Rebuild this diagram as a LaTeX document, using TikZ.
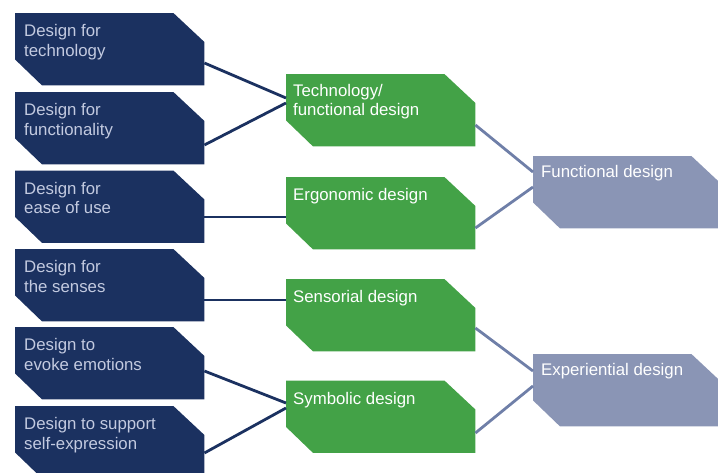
\documentclass[tikz,border=0pt]{standalone}
\usepackage{fontspec}
\setmainfont{Liberation Sans}
\usetikzlibrary{calc,backgrounds}
\definecolor{navy}{HTML}{1B3160}
\definecolor{navytext}{HTML}{C3CAE0}
\definecolor{leaf}{HTML}{43A247}
\definecolor{slate}{HTML}{8A95B5}
\definecolor{slateline}{HTML}{6F7FA8}
\begin{document}
\begin{tikzpicture}[x=1pt,y=-1pt,
  box/.style={rectangle,anchor=north west,inner sep=0pt,minimum width=189pt,minimum height=72pt},
  txt/.style={anchor=base west,inner sep=0pt,align=left,font=\fontsize{16.8}{19.5}\selectfont},
  navyline/.style={draw=navy,line width=2.8pt},
  slateln/.style={draw=slateline,line width=2.8pt}]
\useasboundingbox (0,0) rectangle (718,472);
% boxes
\node[box] (b1) at (15,13) {};
\node[box] (b2) at (15,92) {};
\node[box] (b3) at (15,170.5) {};
\node[box] (b4) at (15,249) {};
\node[box] (b5) at (15,327) {};
\node[box] (b6) at (15,406) {};
\node[box] (g1) at (286,74) {};
\node[box] (g2) at (286,177) {};
\node[box] (g3) at (286,279) {};
\node[box] (g4) at (286,380.5) {};
\node[box] (f1) at (533,156) {};
\node[box] (f2) at (533,354) {};
\begin{scope}[on background layer]
\foreach \n/\c in {b1/navy,b2/navy,b3/navy,b4/navy,b5/navy,b6/navy,g1/leaf,g2/leaf,g3/leaf,g4/leaf,f1/slate,f2/slate}{
  \fill[\c] (\n.north west) -- ($(\n.north east)+(-31,0)$) -- ($(\n.north east)+(0,29)$)
    -- (\n.south east) -- ($(\n.south west)+(27,0)$) -- ($(\n.south west)+(0,-26)$) -- cycle;
}
\end{scope}
% texts (base anchor = baseline of the last line)
\node[txt,text=navytext] (t1) at ($(b1.north west)+(9,43.3)$) {Design for\\technology};
\node[txt,text=navytext] (t2) at ($(b2.north west)+(9,43.3)$) {Design for\\functionality};
\node[txt,text=navytext] (t3) at ($(b3.north west)+(9,43.3)$) {Design for\\ease of use};
\node[txt,text=navytext] (t4) at ($(b4.north west)+(9,43.3)$) {Design for\\the senses};
\node[txt,text=navytext] (t5) at ($(b5.north west)+(9,43.3)$) {Design to\\evoke emotions};
\node[txt,text=navytext] (t6) at ($(b6.north west)+(9,43.3)$) {Design to support\\self-expression};
\node[txt,text=white] (u1) at ($(g1.north west)+(7,41.5)$) {Technology/\\functional design};
\node[txt,text=white] (u2) at ($(g2.north west)+(7,23.5)$) {Ergonomic design};
\node[txt,text=white] (u3) at ($(g3.north west)+(7,23.5)$) {Sensorial design};
\node[txt,text=white] (u4) at ($(g4.north west)+(7,23.5)$) {Symbolic design};
\node[txt,text=white] (v1) at ($(f1.north west)+(8,21.5)$) {Functional design};
\node[txt,text=white] (v2) at ($(f2.north west)+(8,21)$) {Experiential design};
% connectors
\begin{scope}[on background layer]
\draw[navyline] ($(b1.north east)+(0,50)$) -- ($(g1.north west)+(0,24)$);
\draw[navyline] ($(b2.north east)+(0,53)$) -- ($(g1.north west)+(0,29)$);
\draw[navyline] ($(b3.north east)+(0,46.5)$) -- ($(g2.north west)+(0,40)$);
\draw[navyline] ($(b4.north east)+(0,51)$) -- ($(g3.north west)+(0,21)$);
\draw[navyline] ($(b5.north east)+(0,44)$) -- ($(g4.north west)+(0,22.5)$);
\draw[navyline] ($(b6.north east)+(0,47)$) -- ($(g4.north west)+(0,27.5)$);
\draw[slateln] ($(g1.north east)+(0,51)$) -- ($(f1.north west)+(0,16)$);
\draw[slateln] ($(g2.north east)+(0,51)$) -- ($(f1.north west)+(0,31)$);
\draw[slateln] ($(g3.north east)+(0,49)$) -- ($(f2.north west)+(0,17)$);
\draw[slateln] ($(g4.north east)+(0,52.5)$) -- ($(f2.north west)+(0,32)$);
\end{scope}
\end{tikzpicture}
\end{document}
